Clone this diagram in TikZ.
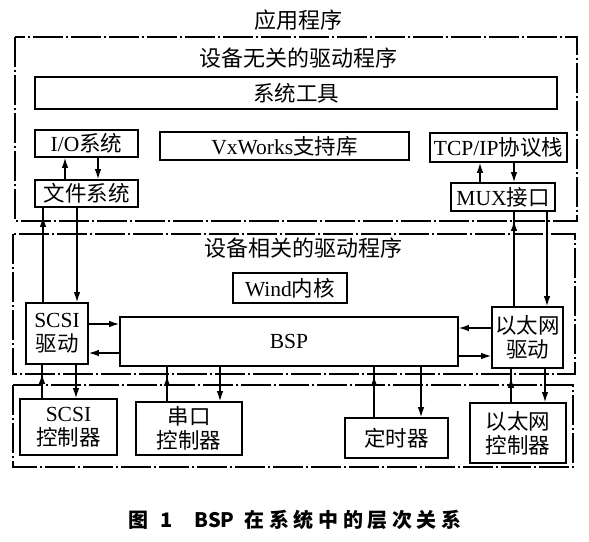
\documentclass[tikz,border=0pt]{standalone}
\usepackage{fontspec}
\setmainfont{Liberation Serif}
\newfontfamily\cjk{Noto Sans CJK SC}
\newfontfamily\capfont{Noto Sans CJK SC}
\newfontfamily\capwide{Noto Sans CJK SC}[LetterSpace=23]
\usetikzlibrary{arrows.meta,decorations.markings}
\begin{document}
\begin{tikzpicture}[x=1pt,y=-1pt,line width=1.3pt,>={Latex[length=10pt,width=6.5pt]},
  font=\fontsize{21.5}{24}\selectfont,
  blk/.style={draw,line width=1.6pt,inner sep=0pt,align=center},
  layer/.style={line width=1.6pt,dash pattern=on 30pt off 3pt on 2pt off 3pt},
  uparr/.style={decoration={markings,mark=at position -9pt with {\arrow{>}}},postaction={decorate}}]
  \useasboundingbox (0,0) rectangle (589,541);

  % 三层虚框
  \draw[layer] (15,37) rectangle (577,221);
  \draw[layer] (13,234) rectangle (575,374);
  \draw[layer] (13,385) rectangle (573,467);

  % 层标题
  \node[font=\fontsize{22}{24}\selectfont] (app) at (298,20) {\cjk 应用程序};
  \node[font=\fontsize{22}{24}\selectfont] (indep) at (298,58) {\cjk 设备无关的驱动程序};
  \node[font=\fontsize{22}{24}\selectfont] (dep) at (303,248) {\cjk 设备相关的驱动程序};

  % 设备无关层
  \node[blk,minimum width=522pt,minimum height=32pt] (tools) at (296,93) {\cjk 系统工具};
  \node[blk,minimum width=103pt,minimum height=27pt] (io) at (86.5,143.5) {I/O{\cjk 系统}};
  \node[blk,minimum width=249pt,minimum height=28pt] (vx) at (284.5,146) {VxWorks{\cjk 支持库}};
  \node[blk,minimum width=137pt,minimum height=29pt] (tcp) at (498.5,147.5) {TCP/IP{\cjk 协议栈}};
  \node[blk,minimum width=103pt,minimum height=27pt] (fs) at (86.5,193.5) {\cjk 文件系统};
  \node[blk,minimum width=104pt,minimum height=28pt] (mux) at (503,197) {MUX{\cjk 接口}};

  % 设备相关层
  \node[blk,minimum width=114pt,minimum height=30pt] (wind) at (290,288) {Wind{\cjk 内核}};
  \node[blk,minimum width=62pt,minimum height=61pt] (scsi) at (57,333.5) {SCSI\\{\cjk 驱动}};
  \node[blk,minimum width=338pt,minimum height=49pt] (bsp) at (289,341.5) {BSP};
  \node[blk,minimum width=71pt,minimum height=61pt] (eth) at (527.5,337.5) {{\cjk 以太网}\\{\cjk 驱动}};

  % 硬件层
  \node[blk,minimum width=97pt,minimum height=56pt] (scsic) at (68.5,427) {SCSI\\{\cjk 控制器}};
  \node[blk,minimum width=106pt,minimum height=53pt] (uart) at (189,428.5) {{\cjk 串口}\\{\cjk 控制器}};
  \node[blk,minimum width=103pt,minimum height=40pt] (timer) at (396.5,438) {\cjk 定时器};
  \node[blk,minimum width=96pt,minimum height=60pt] (ethc) at (518,433) {{\cjk 以太网}\\{\cjk 控制器}};

  % 上层连线
  \draw[->] ([xshift=-21.5pt]fs.north) -- ([xshift=-21.5pt]fs.north |- io.south);
  \draw[->] ([xshift=11.5pt]io.south) -- ([xshift=11.5pt]io.south |- fs.north);
  \draw[->] ([xshift=-23pt]mux.north) -- ([xshift=-23pt]mux.north |- tcp.south);
  \draw[->] ([xshift=11pt]mux.north |- tcp.south) -- ([xshift=11pt]mux.north);
  \draw[uparr] ([xshift=-14pt]scsi.north) -- ([xshift=-14pt]scsi.north |- fs.south);
  \draw[->] ([xshift=20pt]scsi.north |- fs.south) -- ([xshift=20pt]scsi.north);
  \draw[uparr] ([xshift=-13.5pt]eth.north) -- ([xshift=-13.5pt]eth.north |- mux.south);
  \draw[->] ([xshift=19.5pt]eth.north |- mux.south) -- ([xshift=19.5pt]eth.north);

  % 驱动与BSP
  \draw[->] ([yshift=17.5pt]bsp.west -| scsi.east) -- ([yshift=17.5pt]bsp.west);
  \draw[->] ([yshift=-11.5pt]bsp.west) -- ([yshift=-11.5pt]bsp.west -| scsi.east);
  \draw[->] ([yshift=13.5pt]bsp.east -| eth.west) -- ([yshift=13.5pt]bsp.east);
  \draw[->] ([yshift=-14.5pt]bsp.east) -- ([yshift=-14.5pt]bsp.east -| eth.west);

  % 下层连线
  \draw[uparr] ([xshift=-15pt]scsi.south |- scsic.north) -- ([xshift=-15pt]scsi.south);
  \draw[->] ([xshift=19pt]scsi.south) -- ([xshift=19pt]scsi.south |- scsic.north);
  \draw[uparr] ([xshift=-22pt]uart.north) -- ([xshift=-22pt]uart.north |- bsp.south);
  \draw[->] ([xshift=31pt]uart.north |- bsp.south) -- ([xshift=31pt]uart.north);
  \draw[uparr] ([xshift=-22.5pt]timer.north) -- ([xshift=-22.5pt]timer.north |- bsp.south);
  \draw[->] ([xshift=24.5pt]timer.north |- bsp.south) -- ([xshift=24.5pt]timer.north);
  \draw[uparr] ([xshift=-16.5pt]eth.south |- ethc.north) -- ([xshift=-16.5pt]eth.south);
  \draw[->] ([xshift=17.5pt]eth.south) -- ([xshift=17.5pt]eth.south |- ethc.north);

  % 图题
  \node[font=\fontsize{20}{22}\selectfont] (cap) at (295,520)
    {\capfont\bfseries 图\hspace{12pt}1\hspace{22pt}BSP\hspace{10pt}{\capwide\bfseries 在系统中的层次关系}};
\end{tikzpicture}
\end{document}
